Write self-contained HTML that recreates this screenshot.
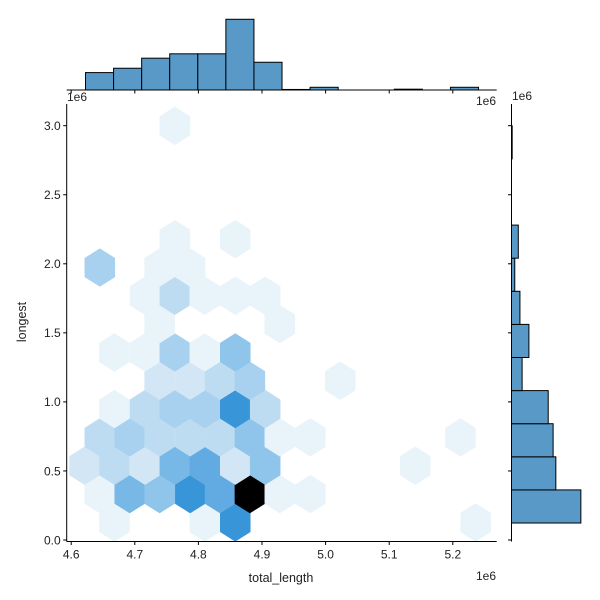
<!DOCTYPE html>
<html><head><meta charset="utf-8"><style>
body{margin:0;background:#fff}
svg{display:block;font-family:"Liberation Sans","DejaVu Sans",sans-serif}
</style></head><body>
<svg id="c" width="600" height="600" viewBox="0 0 600 600" xmlns="http://www.w3.org/2000/svg"></svg>
<script>
// hexbin data (x in 1e6, y in 1e6), counts
const hexX = [4.668,4.810,4.858,5.236, 4.645,4.692,4.739,4.787,4.834,4.881,4.928,4.976, 4.621,4.668,4.716,4.763,4.810,4.858,4.905,5.141, 4.645,4.692,4.739,4.787,4.834,4.881,4.928,4.976,5.212, 4.668,4.716,4.763,4.810,4.858,4.905, 4.739,4.787,4.834,4.881,5.023, 4.668,4.716,4.763,4.810,4.858, 4.739,4.928, 4.716,4.763,4.810,4.858,4.905, 4.645,4.739,4.787, 4.763,4.858, 4.763];
const hexY = [0.127,0.127,0.127,0.127, 0.332,0.332,0.332,0.332,0.332,0.332,0.332,0.332, 0.538,0.538,0.538,0.538,0.538,0.538,0.538,0.538, 0.743,0.743,0.743,0.743,0.743,0.743,0.743,0.743,0.743, 0.948,0.948,0.948,0.948,0.948,0.948, 1.153,1.153,1.153,1.153,1.153, 1.358,1.358,1.358,1.358,1.358, 1.563,1.563, 1.768,1.768,1.768,1.768,1.768, 1.973,1.973,1.973, 2.178,2.178, 2.999];
const hexCount = [1,1,9,1, 1,6,5,9,7,14,1,1, 2,3,2,6,7,2,5,1, 3,4,3,3,3.5,5,1,1,1, 1,3,4,4,9,3, 2,2,3,4,1, 1,1,4,1,5, 1,1, 1,3,1,1,1, 4,1,1, 1,1, 1];
// top marginal histogram
const topEdge0 = 4.6225, topBinW = 0.04414;
const topCounts = [6.4,8,11.7,13.3,13.3,26,10.2,0.2,1,0,0,0.3,0,1];
// right marginal histogram
const rightEdge0 = 0.123, rightBinW = 0.2397;
const rightCounts = [25.5,16.3,15.3,13.5,3.9,6.4,3.1,1.2,2.5,0,0,0.25];
const xTicks = [4.6,4.7,4.8,4.9,5.0,5.1,5.2];
const xTickLabels = ["4.6","4.7","4.8","4.9","5.0","5.1","5.2"];
const yTicks = [0,0.5,1.0,1.5,2.0,2.5,3.0];
const yTickLabels = ["0.0","0.5","1.0","1.5","2.0","2.5","3.0"];

const svg = document.getElementById('c');
const NS = 'http://www.w3.org/2000/svg';
const L=66.7, R=496.7, B=541.5, T=104;
const X = v => 71.2 + (v-4.6)*636;
const Y = v => 540 - v*138.1;
const CNT = c => c*2.72;
function mk(tag, attrs, parent){const e=document.createElementNS(NS,tag);for(const k in attrs)e.setAttribute(k,attrs[k]);(parent||svg).appendChild(e);return e;}
function color(c){
  const stops=[[1,'#e8f3fa'],[2,'#d3e6f5'],[3,'#bddcf2'],[4,'#a8d0ef'],[5,'#8fc5ea'],[6,'#78b8e6'],[7,'#62abe2'],[9,'#3895d8'],[11,'#1f6fae'],[14,'#000000']];
  let best=stops[0][1];for(const s of stops){if(c>=s[0])best=s[1];}return best;
}
// hexes
const hg = mk('g',{});


const hw=15, hr=18.9;
for(let i=0;i<hexX.length;i++){
  const cx=X(hexX[i]), cy=Y(hexY[i]);
  const pts=[[0,-hr],[hw,-hr/2],[hw,hr/2],[0,hr],[-hw,hr/2],[-hw,-hr/2]].map(p=>(cx+p[0])+','+(cy+p[1])).join(' ');
  const h=mk('polygon',{points:pts,fill:color(hexCount[i]),stroke:color(hexCount[i]),'stroke-width':0.5},hg);
  
  
}
// main axes spines
const ax=mk('g',{});


mk('line',{x1:L,y1:T,x2:L,y2:B,stroke:'#000','stroke-width':1},ax);
mk('line',{x1:L,y1:B,x2:R,y2:B,stroke:'#000','stroke-width':1},ax);
xTicks.forEach((t,i)=>{
  const x=X(t);
  mk('line',{x1:x,y1:B,x2:x,y2:B+3.5,stroke:'#000'},ax);
  const tx=mk('text',{x:x,y:B+17,'font-size':12,'text-anchor':'middle',fill:'#222'},ax);tx.textContent=xTickLabels[i];
  
  
  // top marginal ticks
  mk('line',{x1:x,y1:90,x2:x,y2:93.5,stroke:'#000'});
});
yTicks.forEach((t,i)=>{
  const y=Y(t);
  mk('line',{x1:L,y1:y,x2:L-3.5,y2:y,stroke:'#000'},ax);
  const tx=mk('text',{x:L-6,y:y+4.3,'font-size':12,'text-anchor':'end',fill:'#222'},ax);tx.textContent=yTickLabels[i];
  
  
  mk('line',{x1:511.5,y1:y,x2:508,y2:y,stroke:'#000'});
});
function text(x,y,s,name,extra){const t=mk('text',Object.assign({x:x,y:y,'font-size':12,fill:'#222'},extra||{}));t.textContent=s;
  
  return t;}
text(281,582,'total_length','x-axis-title',{'text-anchor':'middle','font-size':12.5});
text(26,322,'longest','y-axis-title',{'text-anchor':'middle','font-size':12.5,transform:'rotate(-90 26 322)'});
text(496,580,'1e6','x-offset-label',{'text-anchor':'end'});
text(67,101,'1e6','y-offset-label');
text(496,105,'1e6','top-x-offset-label',{'text-anchor':'end'});
text(512,100,'1e6','right-y-offset-label');
// top marginal
const tg=mk('g',{});


topCounts.forEach((c,i)=>{
  if(c<=0)return;
  const x0=X(topEdge0+i*topBinW), x1=X(topEdge0+(i+1)*topBinW);
  const r=mk('rect',{x:x0,y:90-CNT(c),width:x1-x0,height:CNT(c),fill:'#5899c8',stroke:'#000','stroke-width':1},tg);
  
  
});
mk('line',{x1:L,y1:90,x2:R,y2:90,stroke:'#000'},tg);
// right marginal
const rg=mk('g',{});


rightCounts.forEach((c,i)=>{
  if(c<=0)return;
  const y0=Y(rightEdge0+(i+1)*rightBinW), y1=Y(rightEdge0+i*rightBinW);
  const r=mk('rect',{x:511.5,y:y0,width:CNT(c),height:y1-y0,fill:'#5899c8',stroke:'#000','stroke-width':1},rg);
  
  
});
mk('line',{x1:511.5,y1:T,x2:511.5,y2:B,stroke:'#000'},rg);
</script>
</body></html>
